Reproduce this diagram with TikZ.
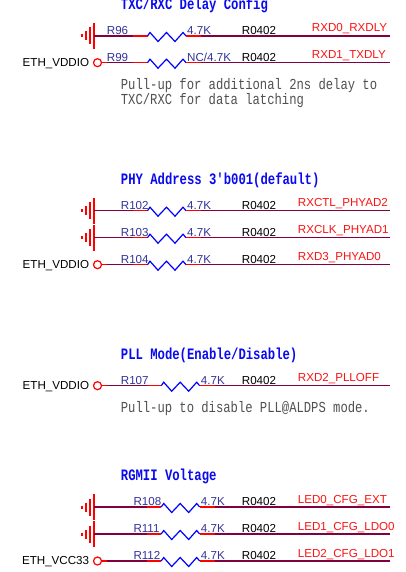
\documentclass[tikz,border=0pt]{standalone}
\usepackage{fontspec}
\setmainfont{Liberation Sans}
\setmonofont{Liberation Mono}
\definecolor{wirec}{RGB}{128,0,64}
\definecolor{navyc}{RGB}{51,51,153}
\definecolor{notec}{RGB}{80,80,80}
\definecolor{ttlc}{RGB}{10,10,240}
\definecolor{netc}{RGB}{250,20,20}
\tikzset{
  wire/.style={draw=wirec,line width=1.3pt},
  lead/.style={draw=red,line width=1.3pt},
  zz/.style={draw=blue,line width=1.2pt,line join=miter},
  gndl/.style={draw=red,line width=1.2pt},
  pin/.style={draw=red,line width=1.2pt},
  lab/.style={font=\fontsize{11.6}{12}\selectfont,anchor=base west,inner sep=0pt},
  rlab/.style={lab,text=navyc},
  blab/.style={lab,text=black},
  nlab/.style={lab,text=netc},
  plab/.style={font=\fontsize{11.6}{12}\selectfont,anchor=base east,inner sep=0pt,text=black},
  ttl/.style={font=\ttfamily\bfseries\fontsize{12.25}{13}\selectfont,anchor=base west,inner sep=0pt,text=ttlc},
  note/.style={font=\ttfamily\fontsize{12.2}{13}\selectfont,anchor=base west,inner sep=0pt,text=notec}
}
% #1 id, #2 y, #3 start x, #4 lead x, #5 Rlabel x, #6 Rname, #7 value, #8 net, #9 net x
\newcommand\myrow[9]{%
  \coordinate (#1s) at (#3,#2);
  \coordinate (#1a) at (#4,#2);
  \coordinate (#1b) at ({#4+14.5},#2);
  \coordinate (#1c) at ({#4+53},#2);
  \coordinate (#1d) at ({#4+68},#2);
  \coordinate (#1e) at (390,#2);
  \draw[wire] (#1s) -- (#1a);
  \draw[lead] (#1a) -- (#1b);
  \draw[zz] (#1b) -- ++(2.5,-3.5) -- ++(8,9) -- ++(8.5,-9) -- ++(8.5,9) -- ++(8,-9) -- (#1c);
  \draw[lead] (#1c) -- (#1d);
  \draw[wire] (#1d) -- (#1e);
  \node[rlab] (#1n) at (#5,{#2-1.5}) {#6};
  \node[rlab] (#1v) at ({#4+54},{#2-1.5}) {#7};
  \node[blab] (#1p) at (241.7,{#2-1.5}) {R0402};
  \node[nlab] (#1l) at (#9,{#2-4}) {#8};
}
% ground symbol: #1 x of plate, #2 y
\newcommand\mygnd[2]{%
  \draw[gndl] (#1,{#2-13}) -- (#1,{#2+13});
  \draw[gndl] ({#1-4},{#2-8.5}) -- ({#1-4},{#2+8.5});
  \draw[gndl] ({#1-8},{#2-4.5}) -- ({#1-8},{#2+4.5});
  \draw[gndl] ({#1-12},{#2-1.5}) -- ({#1-12},{#2+1.5});
}
% power pin: #1 id, #2 y, #3 text
\newcommand\mypwr[3]{%
  \node[plab] (#1t) at (89.3,{#2+3.5}) {#3};
  \node[pin,circle,minimum size=8pt,inner sep=0pt] (#1c) at (97.5,#2) {};
  \coordinate (#1k) at (107,#2);
  \draw[lead] (#1c.east) -- (#1k);
}
\begin{document}
\begin{tikzpicture}[x=1pt,y=-1pt]
\useasboundingbox[fill=white] (0,0) rectangle (405,572);

% Section 1
\node[ttl] (t1) at (120.7,9.5) {\scalebox{1}[1.3]{TXC/RXC Delay Config}};
\mygnd{94}{36}
\myrow{ra}{36}{94}{133}{106.7}{R96}{4.7K}{RXD0\_RXDLY}{311.7}
\mypwr{pa}{62.7}{ETH\_VDDIO}
\myrow{rb}{62.7}{107}{133}{106.7}{R99}{NC/4.7K}{RXD1\_TXDLY}{311.7}
\node[note] (n1) at (120.7,90) {\scalebox{1}[1.25]{Pull-up for additional 2ns delay to}};
\node[note] (n2) at (120.7,105) {\scalebox{1}[1.25]{TXC/RXC for data latching}};

% Section 2
\node[ttl] (t2) at (120.7,184.2) {\scalebox{1}[1.3]{PHY Address 3'b001(default)}};
\mygnd{94}{210.7}
\mygnd{94}{237.7}
\myrow{rc}{210.7}{94}{133}{120.7}{R102}{4.7K}{RXCTL\_PHYAD2}{297.7}
\myrow{rd}{237.7}{94}{133}{120.7}{R103}{4.7K}{RXCLK\_PHYAD1}{297.7}
\mypwr{pb}{264.7}{ETH\_VDDIO}
\myrow{re}{264.7}{107}{133}{120.7}{R104}{4.7K}{RXD3\_PHYAD0}{297.7}

% Section 3
\node[ttl] (t3) at (120.7,359.2) {\scalebox{1}[1.3]{PLL Mode(Enable/Disable)}};
\mypwr{pc}{385.7}{ETH\_VDDIO}
\myrow{rf}{385.7}{107}{146.7}{120.7}{R107}{4.7K}{RXD2\_PLLOFF}{297.7}
\node[note] (n3) at (120.7,412.3) {\scalebox{1}[1.25]{Pull-up to disable PLL@ALDPS mode.}};

% Section 4
\node[ttl] (t4) at (120.7,480.5) {\scalebox{1}[1.3]{RGMII Voltage}};
\mygnd{94}{507}
\mygnd{94}{534}
\myrow{rg}{507}{94}{146.7}{133.3}{R108}{4.7K}{LED0\_CFG\_EXT}{297.7}
\myrow{rh}{534}{94}{146.7}{133.3}{R111}{4.7K}{LED1\_CFG\_LDO0}{297.7}
\mypwr{pd}{561}{ETH\_VCC33}
\myrow{ri}{561}{107}{146.7}{133.3}{R112}{4.7K}{LED2\_CFG\_LDO1}{297.7}
\end{tikzpicture}
\end{document}
